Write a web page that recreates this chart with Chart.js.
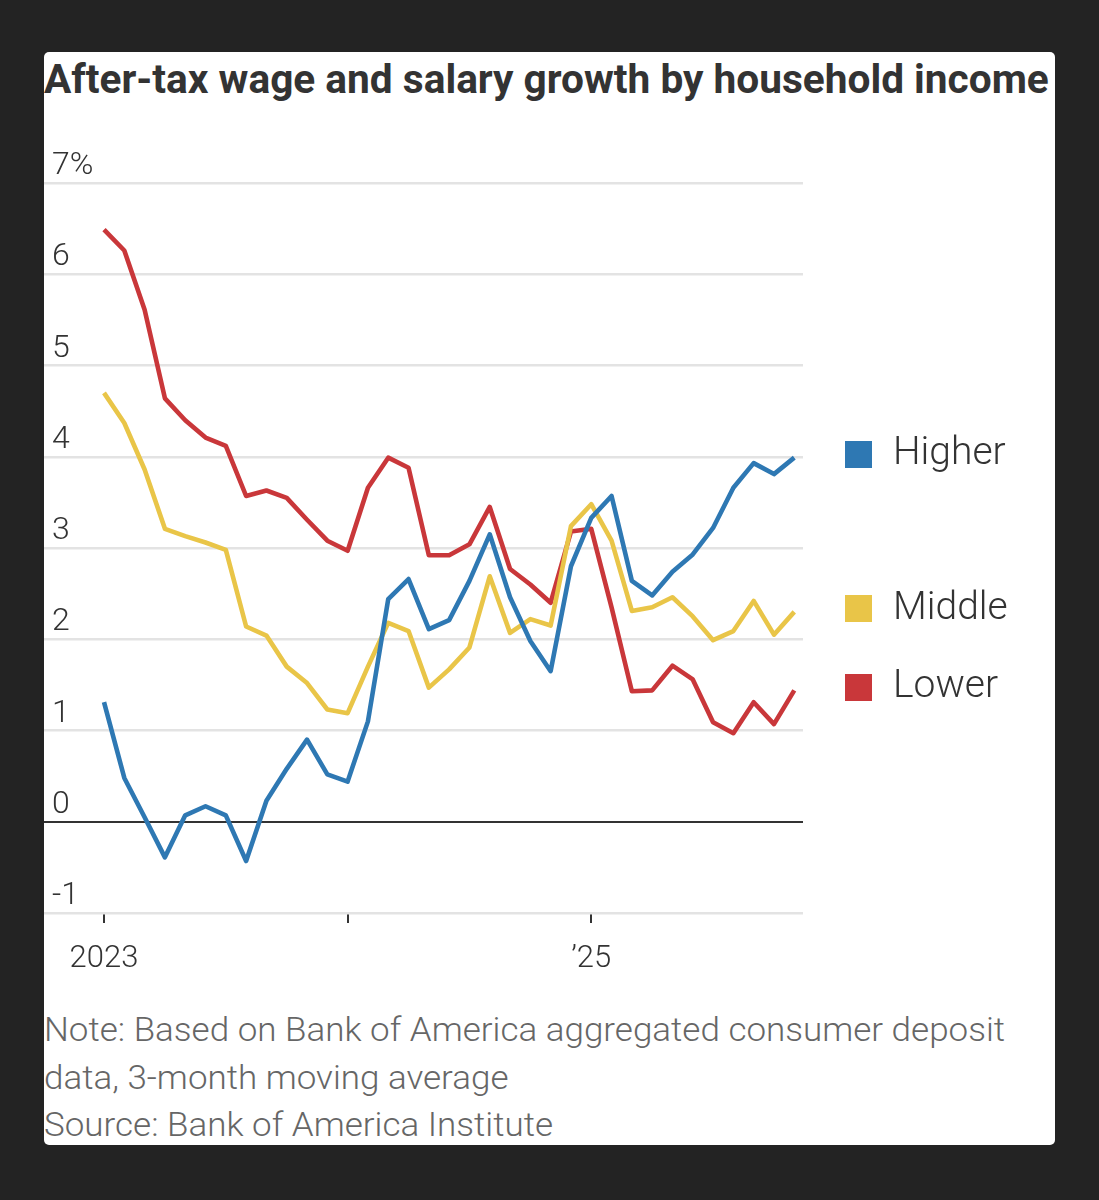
<!DOCTYPE html>
<html>
<head>
<meta charset="utf-8">
<script src="https://cdn.jsdelivr.net/npm/chart.js@4.4.1/dist/chart.umd.min.js"></script>
<style>
html,body{margin:0;padding:0;background:#232323;width:1099px;height:1200px;overflow:hidden;}
#card{position:absolute;left:44px;top:52px;width:1011px;height:1093px;background:#fff;border-radius:5px;}
#title{position:absolute;left:0;top:8px;font:700 40px Roboto;line-height:40px;color:#333;white-space:nowrap;transform-origin:0 0;}
#wrap{position:absolute;left:0;top:88px;width:1011px;height:860px;}
#foot{position:absolute;left:0;top:954px;font:300 33px Roboto;line-height:47.5px;color:#666;white-space:nowrap;transform-origin:0 0;}
</style>
</head>
<body>
<div id="card">
  <div id="title">After-tax wage and salary growth by household income</div>
  <div id="wrap"><canvas id="c" width="1011" height="860"></canvas></div>
  <div id="foot"><div id="l1">Note: Based on Bank of America aggregated consumer deposit</div><div>data, 3-month moving average</div><div>Source: Bank of America Institute</div></div>
</div>
<script>
const months = ['Jan 2023','Feb 2023','Mar 2023','Apr 2023','May 2023','Jun 2023','Jul 2023','Aug 2023','Sep 2023','Oct 2023','Nov 2023','Dec 2023',
  'Jan 2024','Feb 2024','Mar 2024','Apr 2024','May 2024','Jun 2024','Jul 2024','Aug 2024','Sep 2024','Oct 2024','Nov 2024','Dec 2024',
  'Jan 2025','Feb 2025','Mar 2025','Apr 2025','May 2025','Jun 2025','Jul 2025','Aug 2025','Sep 2025','Oct 2025','Nov 2025'];
const higher = [1.31,0.48,0.05,-0.39,0.07,0.17,0.07,-0.43,0.23,0.58,0.90,0.52,0.44,1.10,2.44,2.66,2.11,2.21,2.64,3.15,2.46,1.98,1.65,2.80,3.33,3.57,2.64,2.48,2.74,2.93,3.22,3.66,3.93,3.81,3.99];
const middle = [4.70,4.37,3.86,3.21,3.13,3.06,2.98,2.14,2.04,1.70,1.52,1.23,1.19,1.70,2.18,2.09,1.47,1.67,1.91,2.69,2.07,2.22,2.15,3.24,3.48,3.08,2.31,2.35,2.46,2.25,1.99,2.09,2.42,2.05,2.30];
const lower = [6.49,6.26,5.61,4.64,4.40,4.21,4.12,3.57,3.63,3.55,3.31,3.08,2.97,3.66,3.99,3.88,2.92,2.92,3.04,3.45,2.77,2.60,2.40,3.18,3.21,2.35,1.43,1.44,1.71,1.56,1.09,0.97,1.31,1.07,1.44];
const seriesNames = ['Higher','Middle','Lower'];
const seriesColors = ['#2e78b3','#e9c548','#c9373a'];
const yTicks = [-1,0,1,2,3,4,5,6,7];
const yTickLabels = ['-1','0','1','2','3','4','5','6','7%'];
const xTicks = [0,12,24];
const xTickLabels = ['2023','','\u201925'];

function fit(el, target){ const w = el.scrollWidth; el.style.transform = 'scaleX(' + (target / w) + ')'; }
fit(document.getElementById('title'), 1005);
(function(){
  const foot = document.getElementById('foot');
  const l1 = document.getElementById('l1');
  const s = document.createElement('span'); s.textContent = l1.textContent; s.style.whiteSpace='nowrap';
  l1.textContent=''; l1.appendChild(s);
  const w = s.getBoundingClientRect().width;
  foot.style.transform = 'scaleX(' + (961 / w) + ')';
})();

const toPts = arr => arr.map((v,i)=>({x:i, y:v}));
const series = [higher, middle, lower];

const endLabels = {
  id:'endLabels',
  afterDraw(chart){
    const {ctx, scales:{y}} = chart;
    ctx.save();
    chart.data.datasets.forEach(ds=>{
      const last = ds.data[ds.data.length-1].y;
      const py = y.getPixelForValue(last) - 3;
      ctx.fillStyle = ds.borderColor;
      ctx.fillRect(801, Math.round(py-13.5), 27, 27);
      ctx.fillStyle = '#333';
      ctx.font = '300 39px Roboto';
      ctx.textBaseline = 'middle';
      ctx.textAlign = 'left';
      ctx.fillText(ds.label, 849, py);
    });
    ctx.restore();
  }
};

const tickFont = {family:'Roboto', size:32, weight:'300'};

new Chart(document.getElementById('c'), {
  type:'line',
  data:{
    labels: months,
    datasets: series.map((s,i)=>({
      label: seriesNames[i],
      data: toPts(s),
      borderColor: seriesColors[i],
      backgroundColor: seriesColors[i],
      borderWidth: 4.6,
      pointRadius: 0,
      tension: 0,
      fill: false,
      order: i,
      borderJoinStyle: 'round'
    }))
  },
  options:{
    responsive:false,
    animation:false,
    layout:{padding:{top:43,right:252,left:0,bottom:0}},
    plugins:{legend:{display:false}, tooltip:{enabled:false}},
    scales:{
      x:{
        type:'linear',
        min:-2.956, max:34.43,
        afterBuildTicks: s => { s.ticks = xTicks.map(v=>({value:v})); },
        afterFit: s => { s.height = 87; },
        ticks:{
          autoSkip:false, maxRotation:0, minRotation:0,
          padding:18,
          color:'#333',
          font:{family:'Roboto', size:31, weight:'300'},
          callback: v => xTickLabels[xTicks.indexOf(v)]
        },
        grid:{drawOnChartArea:false, drawTicks:true, tickLength:10, color:'#333', lineWidth:2},
        border:{display:false}
      },
      y:{
        min:-1, max:7,
        afterBuildTicks: s => { s.ticks = yTicks.map(v=>({value:v})); },
        afterFit: s => { s.width = 0; },
        ticks:{
          mirror:true, padding:8, labelOffset:-17, autoSkip:false,
          color:'#333', font:tickFont,
          callback: v => yTickLabels[yTicks.indexOf(v)]
        },
        grid:{
          drawTicks:false,
          color: c => (c.tick && c.tick.value === 0) ? '#333' : '#e3e3e3',
          lineWidth: c => (c.tick && c.tick.value === 0) ? 2 : 2.5
        },
        border:{display:false}
      }
    }
  },
  plugins:[endLabels]
});
</script>
</body>
</html>
